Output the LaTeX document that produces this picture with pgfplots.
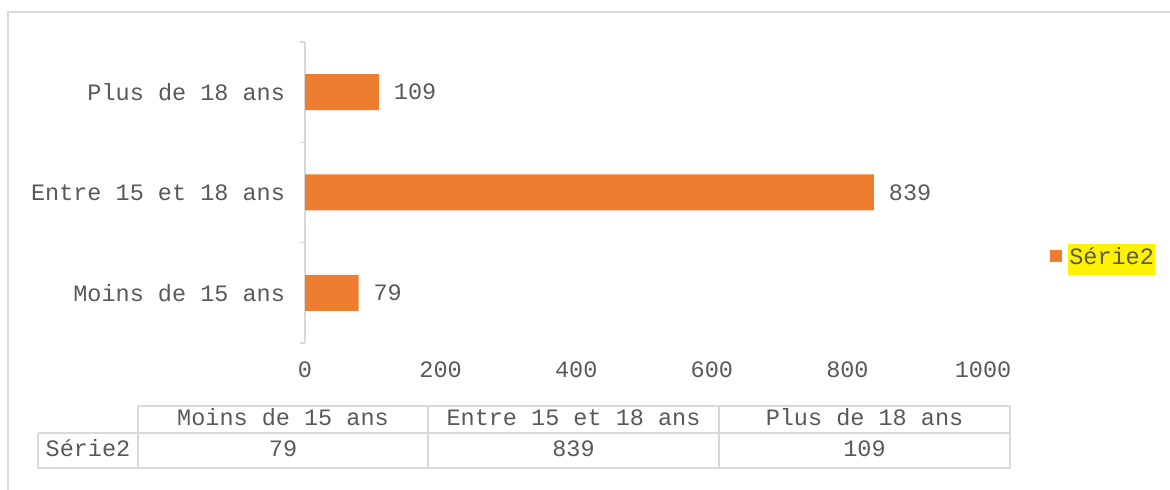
\documentclass[border=0pt]{standalone}
\usepackage{pgfplots}
\pgfplotsset{compat=1.18}
\usepackage{fontspec}
\setmainfont{Liberation Mono}
\definecolor{barorange}{HTML}{ED7D31}
\definecolor{txt}{HTML}{595959}
\definecolor{gridc}{HTML}{D9D9D9}
\begin{document}
\begin{tikzpicture}[x=1pt,y=1pt, font=\fontsize{11.75}{14}\selectfont, every node/.style={text=txt}]
\useasboundingbox (0,0) rectangle (585,245);
\draw[gridc, line width=0.75pt] (4,0) -- (4,239) -- (585,239);
\begin{axis}[
  at={(152.5pt,73.5pt)}, anchor=south west,
  scale only axis, width=339pt, height=150.5pt,
  xbar, bar width=18pt,
  xmin=0, xmax=1000, ymin=-0.5, ymax=2.5,
  axis y line*=left, axis x line*=bottom,
  x axis line style={draw=none},
  y axis line style={draw=gridc, line width=0.75pt, -},
  xtick={0,200,400,600,800,1000},
  x tick style={draw=none},
  /pgf/number format/assume math mode=true,
  /pgf/number format/1000 sep={},
  xticklabel style={text=txt, font=\fontsize{11.75}{14}\selectfont, yshift=-6pt},
  ytick={0,1,2},
  yticklabels={Moins de 15 ans, Entre 15 et 18 ans, Plus de 18 ans},
  yticklabel style={text=txt, font=\fontsize{11.75}{14}\selectfont, xshift=-6.5pt},
  major tick length=0pt,
  minor ytick={-0.5,0.5,1.5,2.5},
  minor tick length=2.5pt,
  tick align=outside,
  minor y tick style={draw=gridc, line width=0.75pt},
  nodes near coords,
  nodes near coords align=horizontal,
  every node near coord/.append style={text=txt, font=\fontsize{11.75}{14}\selectfont, xshift=4pt},
  legend style={at={(1.099,0.289)}, anchor=west, draw=none, fill=none, inner sep=0pt, outer sep=0pt,
     nodes={inner sep=0pt, text=txt, font=\fontsize{11.75}{14}\selectfont},
     /tikz/every odd column/.append style={column sep=3pt}},
  legend image code/.code={\fill[barorange] (0pt,-3pt) rectangle (6pt,3pt);},
]
\addplot[fill=barorange, draw=none] coordinates {(79,0) (839,1) (109,2)};
\addlegendentry{\setlength{\fboxsep}{0.6pt}\colorbox{yellow}{\strut Série2}}
\end{axis}
% data table
\begin{scope}[gridc, line width=0.75pt]
\draw (69,42) -- (505,42);
\draw (19,28.5) -- (505,28.5);
\draw (19,11) -- (505,11);
\draw (19,11) -- (19,28.5);
\foreach \x in {69,214,359.5,505} \draw (\x,11) -- (\x,42);
\end{scope}
\begin{scope}[every node/.style={text=txt, text height=6.9pt, text depth=0pt, inner sep=0pt, anchor=center}]
\node at (141.5,35.6) {Moins de 15 ans};
\node at (286.75,35.6) {Entre 15 et 18 ans};
\node at (432.25,35.6) {Plus de 18 ans};
\node at (44,20) {Série2};
\node at (141.5,20) {79};
\node at (286.75,20) {839};
\node at (432.25,20) {109};
\end{scope}
\end{tikzpicture}
\end{document}
